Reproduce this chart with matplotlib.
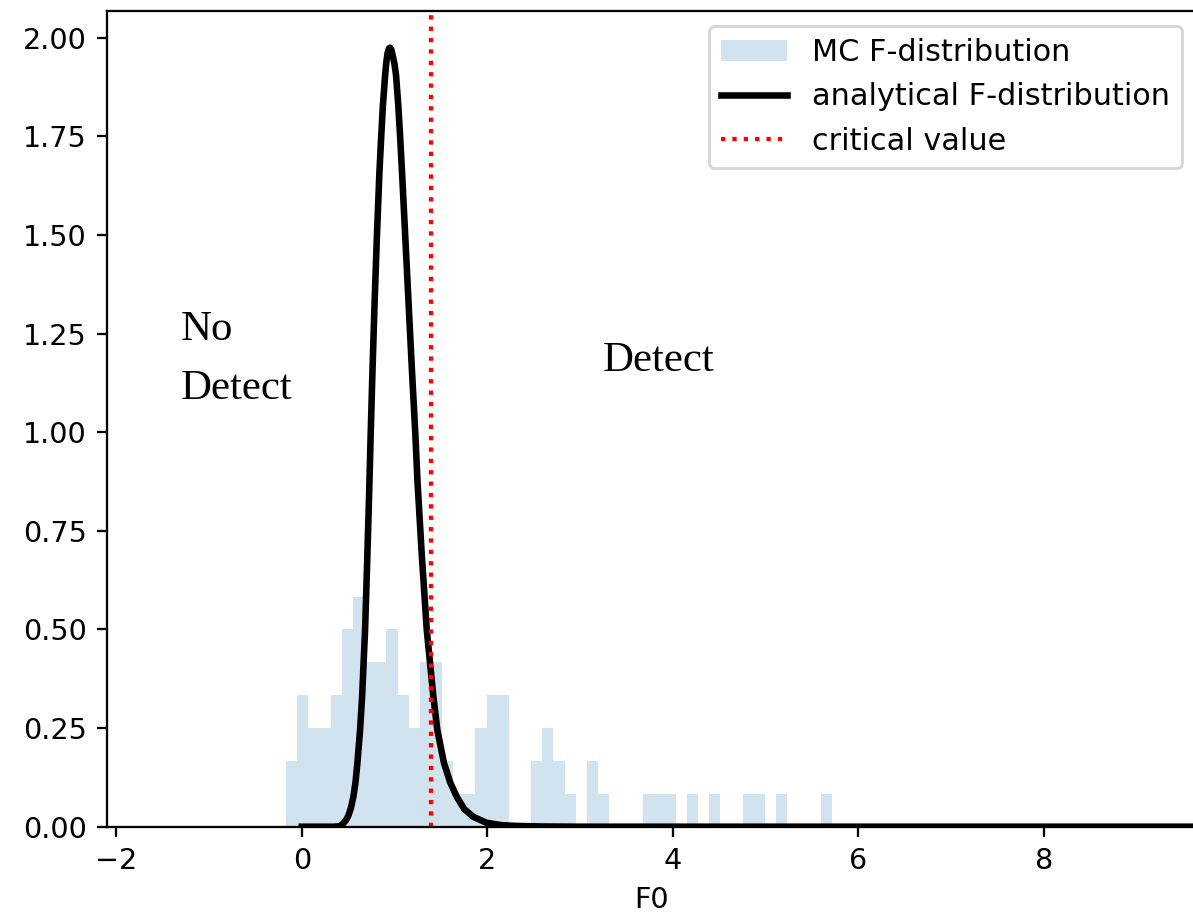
import numpy as np
import matplotlib
matplotlib.use("Agg")
import matplotlib.pyplot as plt

# MC histogram (density per bin), 49 equal bins
hist_start = -0.169
hist_stop = 5.714
mc_density = [0.167, 0.333, 0.25, 0.25, 0.333, 0.5, 0.583, 0.417, 0.417, 0.5,
              0.333, 0.25, 0.417, 0.417, 0.167, 0.083, 0.083, 0.25, 0.333, 0.333,
              0.0, 0.0, 0.167, 0.25, 0.167, 0.083, 0.0, 0.167, 0.083, 0.0,
              0.0, 0.0, 0.083, 0.083, 0.083, 0.0, 0.083, 0.0, 0.083, 0.0,
              0.0, 0.083, 0.083, 0.0, 0.083, 0.0, 0.0, 0.0, 0.083]

# analytical F-distribution
f_x = [0.0, 0.35, 0.40, 0.43, 0.449, 0.475, 0.502, 0.53, 0.556, 0.579, 0.599,
       0.628, 0.650, 0.682, 0.704, 0.725, 0.743, 0.761, 0.783, 0.808, 0.836,
       0.855, 0.873, 0.898, 0.912, 0.925, 0.94, 0.951, 0.965, 0.98, 0.998,
       1.016, 1.041, 1.061, 1.081, 1.117, 1.153, 1.189, 1.224, 1.246, 1.293,
       1.347, 1.418, 1.461, 1.533, 1.600, 1.670, 1.75, 1.849, 1.99, 2.15,
       2.3, 2.6, 3.0, 9.7]
f_pdf = [0.0, 0.0, 0.001, 0.004, 0.009, 0.016, 0.028, 0.048, 0.076, 0.113, 0.161,
         0.245, 0.330, 0.499, 0.668, 0.837, 1.0, 1.149, 1.318, 1.487, 1.656,
         1.745, 1.825, 1.905, 1.940, 1.962, 1.973, 1.975, 1.970, 1.955, 1.935,
         1.905, 1.825, 1.745, 1.656, 1.487, 1.318, 1.149, 0.995, 0.880, 0.690,
         0.499, 0.330, 0.245, 0.161, 0.112, 0.076, 0.045, 0.025, 0.010, 0.004,
         0.002, 0.0005, 0.0, 0.0]

critical_value = 1.39

edges = np.linspace(hist_start, hist_stop, len(mc_density) + 1)
centers = (edges[:-1] + edges[1:]) / 2

fig = plt.figure(figsize=(1193 / 206, 920 / 206), dpi=206)
ax = fig.add_axes([107 / 1193, 1 - 826.7 / 920, 1090 / 1193, 815.7 / 920])

ax.hist(centers, bins=edges, weights=mc_density, alpha=0.2, label="MC F-distribution")
ax.plot(f_x, f_pdf, color="k", lw=2.3, label="analytical F-distribution")
ax.axvline(critical_value, color="r", ls=":", lw=1.5, label="critical value")

ax.text(-1.31, 1.084, "No\nDetect", family="Liberation Serif", fontsize=15,
        va="baseline", linespacing=1.7)
ax.text(3.247, 1.156, "Detect", family="Liberation Serif", fontsize=15, va="baseline")

ax.set_xlim(-2.1, 9.65)
ax.set_ylim(0, 2.068)
ax.set_xlabel("F0")
ax.legend(loc="upper right", fontsize=10.6, handlelength=2.2)

fig.savefig("out.png", dpi=206)
